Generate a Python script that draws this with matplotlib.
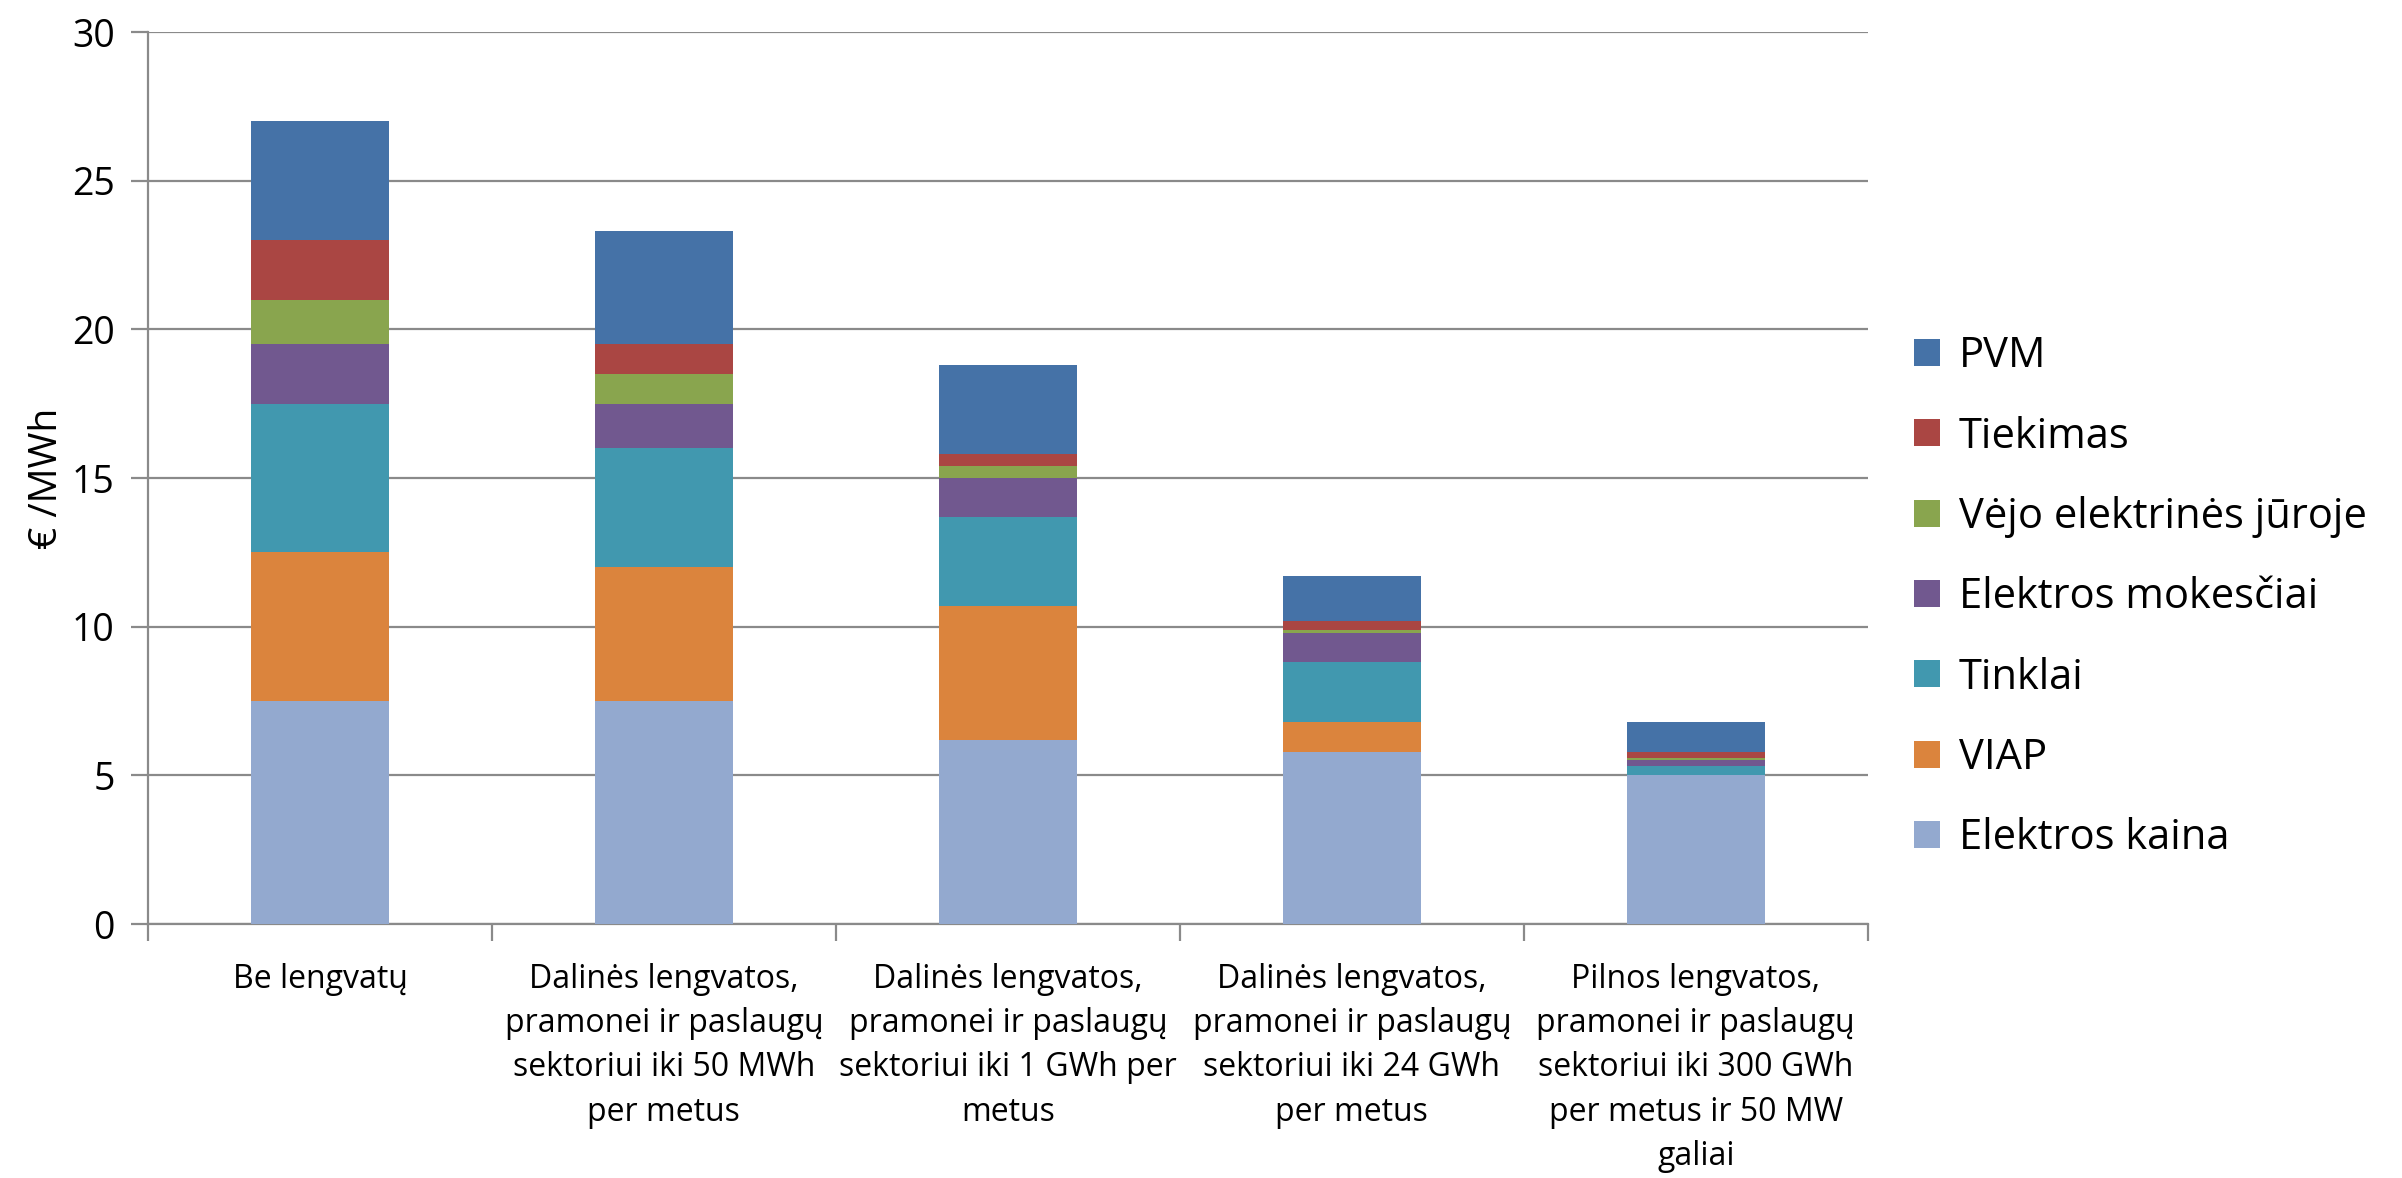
import matplotlib
matplotlib.use('Agg')
import matplotlib.pyplot as plt
import numpy as np

plt.rcParams['font.family'] = ['Open Sans', 'DejaVu Sans']

# Kategorijos (x ašis)
kategorijos = [
    'Be lengvatų',
    'Dalinės lengvatos,\npramonei ir paslaugų\nsektoriui iki 50 MWh\nper metus',
    'Dalinės lengvatos,\npramonei ir paslaugų\nsektoriui iki 1 GWh per\nmetus',
    'Dalinės lengvatos,\npramonei ir paslaugų\nsektoriui iki 24 GWh\nper metus',
    'Pilnos lengvatos,\npramonei ir paslaugų\nsektoriui iki 300 GWh\nper metus ir 50 MW\ngaliai',
]

# Dedamosios, €/MWh (iš apačios į viršų)
elektros_kaina = [7.5, 7.5, 6.2, 5.8, 5.0]
viap = [5.0, 4.5, 4.5, 1.0, 0.0]
tinklai = [5.0, 4.0, 3.0, 2.0, 0.3]
elektros_mokesciai = [2.0, 1.5, 1.3, 1.0, 0.2]
vejo_elektrines = [1.5, 1.0, 0.4, 0.1, 0.1]
tiekimas = [2.0, 1.0, 0.4, 0.3, 0.2]
pvm = [4.0, 3.8, 3.0, 1.5, 1.0]

serijos = [
    ('Elektros kaina', elektros_kaina, '#93A9CF'),
    ('VIAP', viap, '#DB843D'),
    ('Tinklai', tinklai, '#4198AF'),
    ('Elektros mokesčiai', elektros_mokesciai, '#71588F'),
    ('Vėjo elektrinės jūroje', vejo_elektrines, '#89A54E'),
    ('Tiekimas', tiekimas, '#AA4643'),
    ('PVM', pvm, '#4572A7'),
]

fig = plt.figure(figsize=(24.02, 11.78), dpi=100)
ax = fig.add_axes([0.0616, 0.2156, 0.716, 0.7572])

x = np.arange(len(kategorijos))
bottom = np.zeros(len(kategorijos))
for pavadinimas, reiksmes, spalva in serijos:
    ax.bar(x, reiksmes, width=0.4, bottom=bottom, color=spalva,
           label=pavadinimas, edgecolor='none', zorder=3)
    bottom += np.array(reiksmes)

ax.set_xlim(-0.5, len(kategorijos) - 0.5)
ax.set_ylim(0, 30)
ax.set_yticks(range(0, 31, 5))
ax.yaxis.grid(True, color='#8a8a8a', linewidth=1.6, zorder=0)
ax.tick_params(axis='y', labelsize=27, length=12, width=1.6,
               color='#8a8a8a', pad=12)
ax.set_ylabel('€ /MWh', fontsize=28, labelpad=4)

ax.set_xticks(x)
ax.set_xticklabels(kategorijos, fontsize=23, linespacing=1.45, va='top')
ax.tick_params(axis='x', length=0, pad=28)
ax.set_xticks(np.arange(-0.5, len(kategorijos)), minor=True)
ax.tick_params(axis='x', which='minor', length=12, width=1.6, color='#8a8a8a')

for s in ['top', 'right']:
    ax.spines[s].set_visible(False)
for s in ['left', 'bottom']:
    ax.spines[s].set_color('#8a8a8a')
    ax.spines[s].set_linewidth(1.6)

h, l = ax.get_legend_handles_labels()
ax.legend(h[::-1], l[::-1], loc='center left', bbox_to_anchor=(0.79, 0.493),
          bbox_transform=fig.transFigure, frameon=False, fontsize=30,
          handlelength=0.62, handleheight=0.62, handletextpad=0.45,
          labelspacing=0.92, borderaxespad=0)

fig.savefig('out.png', dpi=100)
